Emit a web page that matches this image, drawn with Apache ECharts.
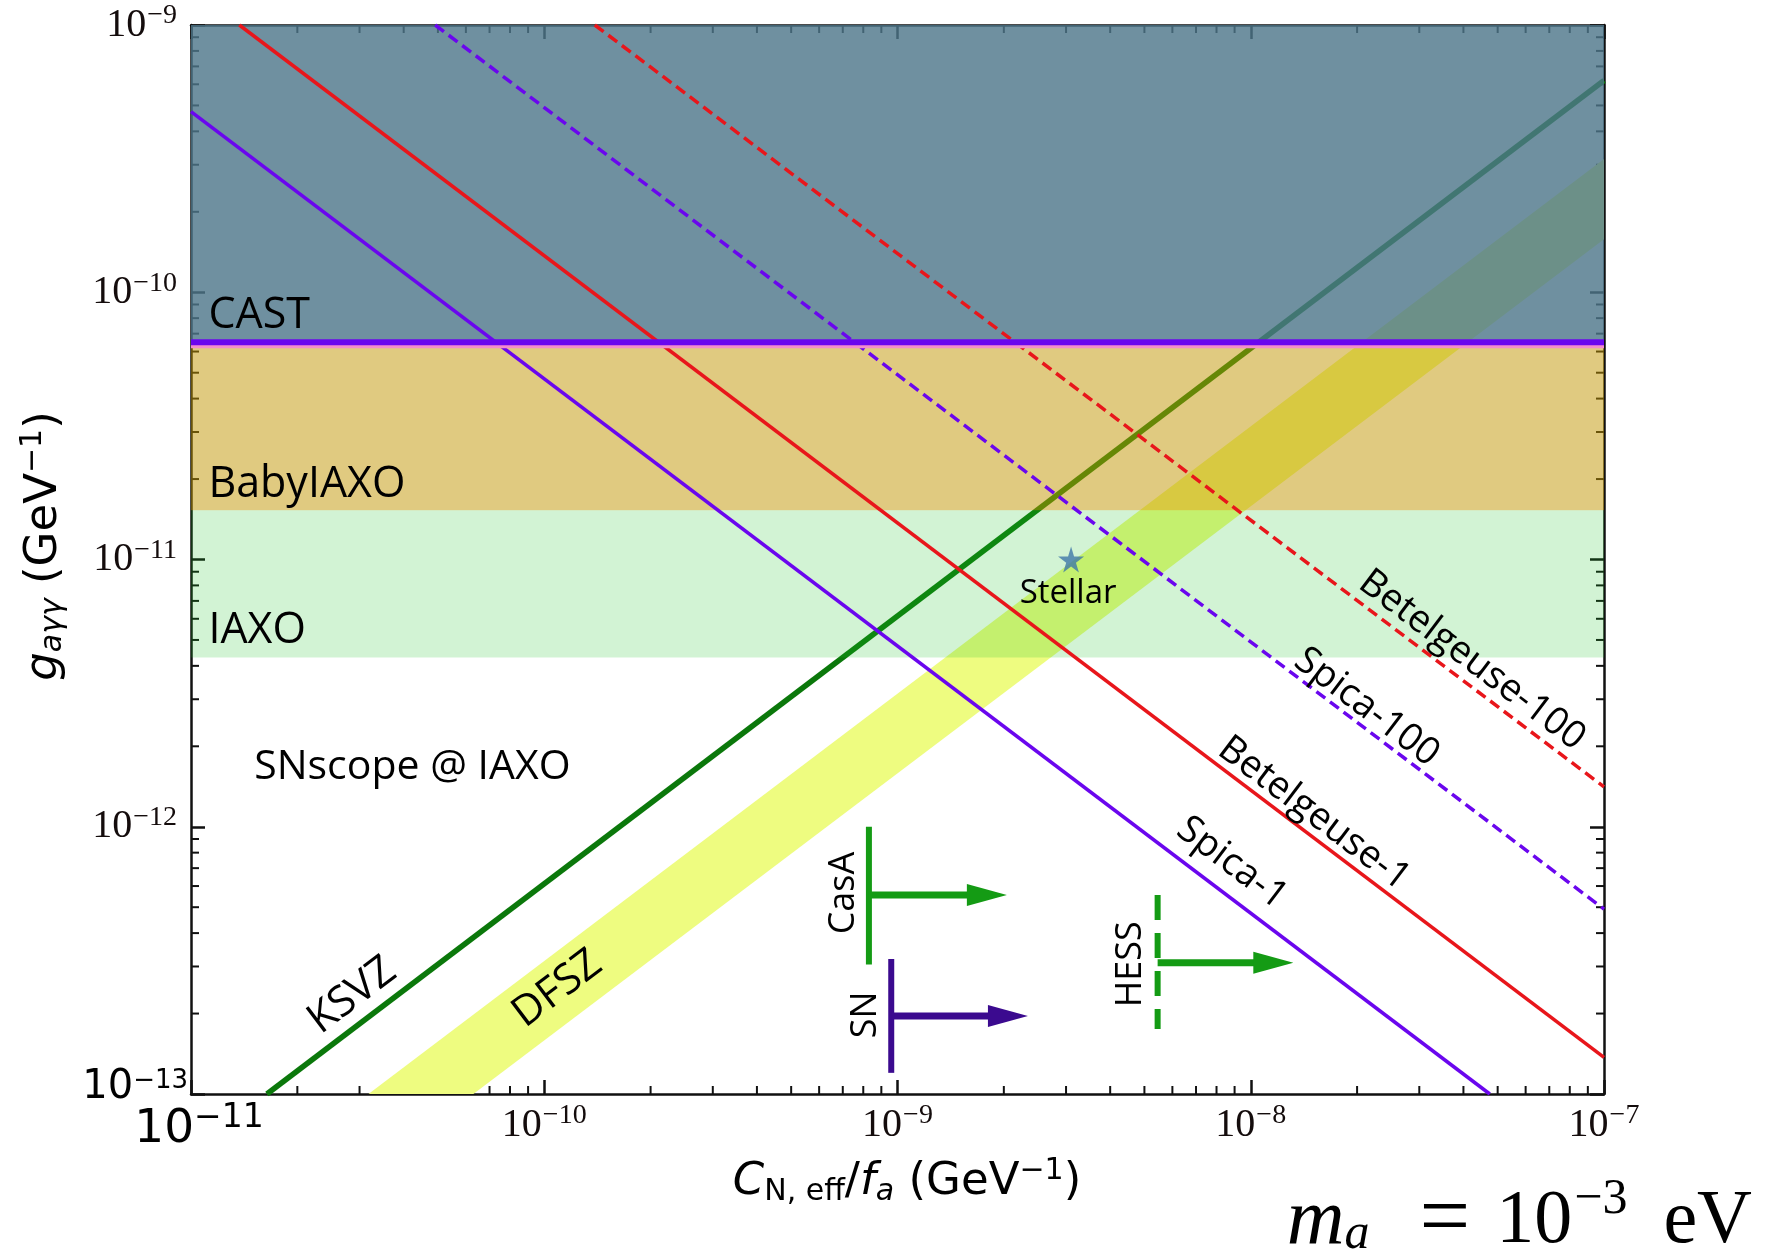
<!DOCTYPE html>
<html>
<head>
<meta charset="utf-8">
<title>SNscope @ IAXO reach, m_a = 1e-3 eV</title>
<script src="https://cdn.jsdelivr.net/npm/echarts@6/dist/echarts.min.js"></script>
<style>
  html, body { margin: 0; padding: 0; background: #ffffff; }
  #chart { width: 1769px; height: 1259px; }
</style>
</head>
<body>
<div id="chart"></div>
<script>
// ---- axis ranges and tick labels ----
const xRange = [1e-11, 1e-7];           // C_N,eff / f_a  (GeV^-1)
const yRange = [1e-13, 1e-9];           // g_aγγ (GeV^-1)
const xTickValues = [1e-11, 1e-10, 1e-9, 1e-8, 1e-7];
const yTickValues = [1e-13, 1e-12, 1e-11, 1e-10, 1e-9];
const xTickLabels = ['10|−11', '10|−10', '10|−9', '10|−8', '10|−7'];
const yTickLabels = ['10|−13', '10|−12', '10|−11', '10|−10', '10|−9'];

// ---- QCD axion models: [C_N,eff/f_a, g_aγγ] ----
const ksvzLine  = [[1.64e-11, 1e-13], [1e-7, 6.2e-10]];
const dfszUpper = [[3.18e-11, 1e-13], [1e-7, 3.15e-10]];
const dfszLower = [[6.3e-11, 1e-13], [1e-7, 1.58e-10]];

// ---- helioscope bands in g_aγγ ----
const bandNames  = ['CAST', 'BabyIAXO', 'IAXO'];
const bandTop    = [1e-9, 6.5e-11, 1.53e-11];
const bandBottom = [6.5e-11, 1.53e-11, 4.3e-12];
const castLimit  = 6.5e-11;

// ---- SNscope sensitivity lines (end points) ----
const spica1        = [[1e-11, 4.74e-10], [4.75e-8, 1e-13]];
const betelgeuse1   = [[1.37e-11, 1e-9], [1e-7, 1.37e-13]];
const spica100      = [[4.91e-11, 1e-9], [1e-7, 4.92e-13]];
const betelgeuse100 = [[1.39e-10, 1e-9], [1e-7, 1.41e-12]];

// ---- stellar hint ----
const stellarPoint = [3.1e-9, 1e-11];

// ---- lower limits on C_N,eff/f_a ----
const limitNames   = ['CasA', 'SN', 'HESS'];
const limitX       = [8.3e-10, 9.6e-10, 5.45e-9];
const limitYTop    = [1.0e-12, 3.2e-13, 5.55e-13];
const limitYBottom = [3.05e-13, 1.2e-13, 1.75e-13];
const limitYArrow  = [5.55e-13, 1.96e-13, 3.1e-13];
const limitXTip    = [2.04e-9, 2.34e-9, 1.32e-8];

// ---- styling ----
const bandColors   = ['rgba(78,118,138,0.81)', 'rgba(193,149,1,0.5)', 'rgba(30,195,40,0.2)'];
const limitColors  = ['#149b14', '#3b0a8f', '#149b14'];
const limitDashed  = [false, false, true];
const purple = '#6a06ee';
const red = '#e8161b';
const serif = '"Liberation Serif", "DejaVu Serif", serif';
const sans = '"DejaVu Sans", "Liberation Sans", sans-serif';
const labelFont = '"Open Sans", "Noto Sans", sans-serif';
const tickColor = '#140c0c';

// text annotations placed in data coordinates
const annotations = [
  { text: 'CAST',           at: [1.12e-11, 8.15e-11], size: 43, rotate: 0,     align: 'left' },
  { text: 'BabyIAXO',       at: [1.12e-11, 1.9e-11],  size: 43, rotate: 0,     align: 'left' },
  { text: 'IAXO',           at: [1.12e-11, 5.4e-12],  size: 43, rotate: 0,     align: 'left' },
  { text: 'SNscope @ IAXO', at: [1.51e-11, 1.67e-12], size: 41, rotate: 0,     align: 'left' },
  { text: 'Stellar',        at: [3.04e-9, 7.43e-12],  size: 33, rotate: 0,     align: 'center' },
  { text: 'KSVZ',           at: [2.86e-11, 2.33e-13], size: 42, rotate: 37.1,  align: 'center' },
  { text: 'DFSZ',           at: [1.09e-10, 2.47e-13], size: 42, rotate: 37.1,  align: 'center' },
  { text: 'Betelgeuse-100', at: [4.23e-8, 4.2e-12],   size: 38, rotate: -37.1, align: 'center' },
  { text: 'Spica-100',      at: [2.13e-8, 2.8e-12],   size: 38, rotate: -37.1, align: 'center' },
  { text: 'Betelgeuse-1',   at: [1.51e-8, 1.12e-12],  size: 38, rotate: -37.1, align: 'center' },
  { text: 'Spica-1',        at: [8.85e-9, 7.3e-13],   size: 38, rotate: -37.1, align: 'center' },
  { text: 'CasA',           at: [7.06e-10, 5.65e-13], size: 36, rotate: 90,    align: 'center' },
  { text: 'SN',             at: [8.15e-10, 1.98e-13], size: 36, rotate: 90,    align: 'center' },
  { text: 'HESS',           at: [4.58e-9, 3.06e-13],  size: 36, rotate: 90,    align: 'center' }
];

function tickText(values, labels, cornerIndex) {
  return function (value) {
    let i = 0, best = Infinity;
    values.forEach(function (v, k) {
      const d = Math.abs(Math.log10(v) - Math.log10(value));
      if (d < best) { best = d; i = k; }
    });
    const parts = labels[i].split('|');
    return i === cornerIndex
      ? '{cb|' + parts[0] + '}{cs|' + parts[1] + '}'
      : '{b|' + parts[0] + '}{s|' + parts[1] + '}';
  };
}

const xRich = {
  b:  { fontFamily: serif, fontSize: 40, color: tickColor },
  s:  { fontFamily: serif, fontSize: 28, color: tickColor, padding: [0, 0, 18, 1] },
  cb: { fontFamily: sans, fontSize: 47, color: '#000', padding: [0, 0, 0, 16] },
  cs: { fontFamily: sans, fontSize: 33, color: '#000', padding: [0, 0, 22, 0] }
};
const yRich = {
  b:  { fontFamily: serif, fontSize: 40, color: tickColor },
  s:  { fontFamily: serif, fontSize: 28, color: tickColor, padding: [0, 11, 18, 1] },
  cb: { fontFamily: sans, fontSize: 40, color: '#000', padding: [0, 0, 12, 0] },
  cs: { fontFamily: sans, fontSize: 26, color: '#000', padding: [0, 0, 26, 0] }
};

function makeAxis(position, values, showLabel, formatter, rich, margin) {
  return {
    type: 'log', logBase: 10, position: position,
    min: (position === 'bottom' || position === 'top') ? xRange[0] : yRange[0],
    max: (position === 'bottom' || position === 'top') ? xRange[1] : yRange[1],
    axisLine: { show: true, onZero: false, lineStyle: { color: '#111', width: 2.5 } },
    axisTick: { show: true, inside: true, length: 14, customValues: values,
                lineStyle: { color: '#111', width: 2.5 } },
    axisLabel: showLabel
      ? { show: true, customValues: values, formatter: formatter, rich: rich, margin: margin }
      : { show: false },
    splitLine: { show: false },
    minorTick: { show: false },
    minorSplitLine: { show: false }
  };
}

// minor ticks at 2..9 times each decade, on all four sides
function minorValues(range) {
  const out = [];
  const lo = Math.round(Math.log10(range[0])), hi = Math.round(Math.log10(range[1]));
  for (let e = lo; e < hi; e++) {
    for (let m = 2; m <= 9; m++) out.push(m * Math.pow(10, e));
  }
  return out;
}
const xMinor = minorValues(xRange);
const yMinor = minorValues(yRange);

function lineSeries(name, data, color, width, dash, z) {
  return {
    type: 'line', name: name, data: data, z: z, silent: true,
    symbol: 'none', showSymbol: false, clip: true, animation: false,
    lineStyle: { color: color, width: width, type: dash || 'solid', cap: 'butt' }
  };
}

const chart = echarts.init(document.getElementById('chart'), null, { renderer: 'canvas' });

const option = {
  animation: false,
  backgroundColor: '#ffffff',
  grid: { left: 191, top: 25, width: 1413, height: 1069, outerBoundsMode: 'none', containLabel: false },
  xAxis: [
    makeAxis('bottom', xTickValues, true, tickText(xTickValues, xTickLabels, 0), xRich, 8),
    makeAxis('top', xTickValues, false)
  ],
  yAxis: [
    makeAxis('left', yTickValues, true, tickText(yTickValues, yTickLabels, 0), yRich, 3),
    makeAxis('right', yTickValues, false)
  ],
  series: [
    // minor ticks (under the shaded bands)
    {
      type: 'custom', name: 'minor ticks', z: 1, silent: true, clip: false,
      data: [[xRange[0], yRange[0]]],
      renderItem: function (params, api) {
        const cs = params.coordSys;
        const children = [];
        const L = 8;
        xMinor.forEach(function (v) {
          const x = api.coord([v, yRange[0]])[0];
          children.push({ type: 'line', shape: { x1: x, y1: cs.y + cs.height, x2: x, y2: cs.y + cs.height - L }, style: { stroke: '#111', lineWidth: 2 } });
          children.push({ type: 'line', shape: { x1: x, y1: cs.y, x2: x, y2: cs.y + L }, style: { stroke: '#111', lineWidth: 2 } });
        });
        yMinor.forEach(function (v) {
          const y = api.coord([xRange[0], v])[1];
          children.push({ type: 'line', shape: { x1: cs.x, y1: y, x2: cs.x + L, y2: y }, style: { stroke: '#111', lineWidth: 2 } });
          children.push({ type: 'line', shape: { x1: cs.x + cs.width, y1: y, x2: cs.x + cs.width - L, y2: y }, style: { stroke: '#111', lineWidth: 2 } });
        });
        return { type: 'group', children: children };
      }
    },
    // DFSZ band
    {
      type: 'custom', name: 'DFSZ', z: 2, silent: true, clip: true,
      data: [[dfszUpper[0][0], dfszUpper[0][1]]],
      renderItem: function (params, api) {
        const pts = [dfszUpper[0], dfszUpper[1], dfszLower[1], dfszLower[0]].map(function (p) { return api.coord(p); });
        return { type: 'polygon', shape: { points: pts }, style: { fill: '#eefc80' } };
      }
    },
    // KSVZ line
    lineSeries('KSVZ', ksvzLine, '#0b780b', 5.5, null, 2),
    // helioscope bands
    {
      type: 'custom', name: 'helioscopes', z: 3, silent: true, clip: true,
      data: bandNames.map(function (n, i) { return [xRange[0], xRange[1], bandTop[i], bandBottom[i]]; }),
      encode: { x: [0, 1], y: [2, 3] },
      renderItem: function (params, api) {
        const p0 = api.coord([api.value(0), api.value(2)]);
        const p1 = api.coord([api.value(1), api.value(3)]);
        return {
          type: 'rect',
          shape: { x: p0[0], y: p0[1], width: p1[0] - p0[0], height: p1[1] - p0[1] },
          style: { fill: bandColors[params.dataIndex] }
        };
      }
    },
    // SNscope lines
    lineSeries('Spica-1', spica1, purple, 3.5, null, 4),
    lineSeries('Betelgeuse-1', betelgeuse1, red, 3.5, null, 4),
    lineSeries('Spica-100', spica100, purple, 3.5, [11, 6], 4),
    lineSeries('Betelgeuse-100', betelgeuse100, red, 3.5, [11, 6], 4),
    // CAST limit
    {
      type: 'line', name: 'CAST limit', z: 5, silent: true, symbol: 'none', clip: true,
      data: [[xRange[0], castLimit], [xRange[1], castLimit]],
      lineStyle: { color: purple, width: 6, shadowColor: '#f48ccc', shadowOffsetY: 3, shadowBlur: 0 }
    },
    // stellar hint
    {
      type: 'scatter', name: 'Stellar', z: 6, silent: true,
      data: [stellarPoint],
      symbol: 'path://M50,0 L61,35 L98,35 L68,57 L79,91 L50,70 L21,91 L32,57 L2,35 L39,35 Z',
      symbolSize: 26,
      itemStyle: { color: '#3e77a8' }
    },
    // lower limits: bar + arrow
    {
      type: 'custom', name: 'limits', z: 6, silent: true, clip: true,
      data: limitNames.map(function (n, i) { return [limitX[i], limitYTop[i], limitYBottom[i], limitYArrow[i], limitXTip[i]]; }),
      encode: { x: [0, 4], y: [1, 2, 3] },
      renderItem: function (params, api) {
        const i = params.dataIndex;
        const top = api.coord([api.value(0), api.value(1)]);
        const bottom = api.coord([api.value(0), api.value(2)]);
        const start = api.coord([api.value(0), api.value(3)]);
        const tip = api.coord([api.value(4), api.value(3)]);
        const color = limitColors[i];
        const headLen = 40, headHalf = 11;
        return {
          type: 'group',
          children: [
            { type: 'line', shape: { x1: top[0], y1: top[1], x2: bottom[0], y2: bottom[1] },
              style: { stroke: color, lineWidth: 6, lineDash: limitDashed[i] ? [25, 13] : null, lineCap: 'butt' } },
            { type: 'line', shape: { x1: start[0], y1: start[1], x2: tip[0] - headLen + 2, y2: tip[1] },
              style: { stroke: color, lineWidth: 7, lineCap: 'butt' } },
            { type: 'polygon', shape: { points: [[tip[0] - headLen, tip[1] - headHalf], [tip[0], tip[1]], [tip[0] - headLen, tip[1] + headHalf]] },
              style: { fill: color } }
          ]
        };
      }
    },
    // text annotations
    {
      type: 'custom', name: 'annotations', z: 7, silent: true, clip: false,
      data: annotations.map(function (a) { return a.at; }),
      renderItem: function (params, api) {
        const a = annotations[params.dataIndex];
        const p = api.coord([api.value(0), api.value(1)]);
        return {
          type: 'text', x: p[0], y: p[1], rotation: a.rotate * Math.PI / 180,
          style: {
            text: a.text, fontFamily: labelFont, fontSize: a.size, fill: '#000',
            align: a.align, verticalAlign: 'middle'
          }
        };
      }
    }
  ],
  graphic: [
    // y axis title
    {
      type: 'text', x: 44, y: 546, rotation: Math.PI / 2, silent: true,
      style: {
        text: '{g|g}{gs|aγγ}{t| (GeV}{sup|−1}{t|)}',
        align: 'center', verticalAlign: 'middle', fill: '#000',
        rich: {
          g:   { fontFamily: sans, fontStyle: 'italic', fontSize: 45, fill: '#000', lineHeight: 60 },
          gs:  { fontFamily: sans, fontStyle: 'italic', fontSize: 30, fill: '#000', padding: [18, 0, 0, 0] },
          t:   { fontFamily: sans, fontSize: 45, fill: '#000', lineHeight: 60 },
          sup: { fontFamily: sans, fontSize: 30, fill: '#000', padding: [0, 0, 22, 0] }
        }
      }
    },
    // x axis title
    {
      type: 'text', x: 907, y: 1182, silent: true,
      style: {
        text: '{i|C}{sub|N, eff}{t|/}{i|f}{isub|a}{t| (GeV}{sup|−1}{t|)}',
        align: 'center', verticalAlign: 'middle', fill: '#000',
        rich: {
          i:    { fontFamily: sans, fontStyle: 'italic', fontSize: 45, fill: '#000', lineHeight: 60 },
          sub:  { fontFamily: sans, fontSize: 30, fill: '#000', padding: [20, 0, 0, 0] },
          isub: { fontFamily: sans, fontStyle: 'italic', fontSize: 30, fill: '#000', padding: [20, 0, 0, 0] },
          t:    { fontFamily: sans, fontSize: 45, fill: '#000', lineHeight: 60 },
          sup:  { fontFamily: sans, fontSize: 30, fill: '#000', padding: [0, 0, 22, 0] }
        }
      }
    },
    // axion mass
    {
      type: 'text', x: 1752, y: 1222, silent: true,
      style: {
        text: '{m|m}{ms|a}{op|=}{t|10}{sup|−3}{u|eV}',
        align: 'right', verticalAlign: 'middle', fill: '#000',
        rich: {
          m:   { fontFamily: serif, fontStyle: 'italic', fontSize: 80, fill: '#000', lineHeight: 90 },
          ms:  { fontFamily: serif, fontStyle: 'italic', fontSize: 50, fill: '#000', padding: [26, 30, 0, 0] },
          op:  { fontFamily: serif, fontSize: 90, fill: '#000', lineHeight: 90, padding: [0, 26, 0, 20] },
          t:   { fontFamily: serif, fontSize: 76, fill: '#000', lineHeight: 90 },
          sup: { fontFamily: serif, fontSize: 50, fill: '#000', padding: [0, 0, 44, 2] },
          u:   { fontFamily: serif, fontSize: 76, fill: '#000', lineHeight: 90, padding: [0, 0, 0, 36] }
        }
      }
    }
  ]
};

chart.setOption(option);
</script>
</body>
</html>
